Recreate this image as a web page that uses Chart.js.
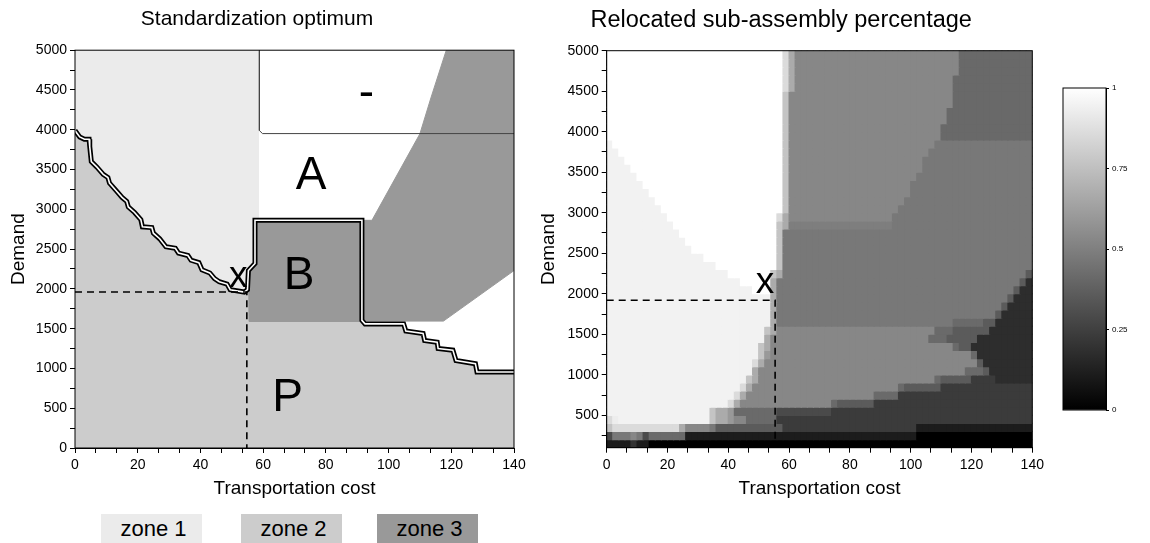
<!DOCTYPE html>
<html>
<head>
<meta charset="utf-8">
<script src="https://cdn.jsdelivr.net/npm/chart.js@4.4.1/dist/chart.umd.min.js"></script>
<style>
  body { margin: 0; background: #fff; width: 1150px; height: 543px; position: relative; overflow: hidden;
         font-family: "Liberation Sans", Arial, sans-serif; }
  canvas { position: absolute; }
  #zoneChart { left: 0; top: 0; }
  #shareChart { left: 530px; top: 0; }
  #scaleChart { left: 1040px; top: 60px; }
  .zone { position: absolute; top: 514px; width: 101px; height: 29px; line-height: 29px;
          font-size: 22px; text-align: center; color: #000; padding-left: 4px; box-sizing: border-box; }
</style>
</head>
<body>
<canvas id="zoneChart" width="530" height="500"></canvas>
<canvas id="shareChart" width="520" height="500"></canvas>
<canvas id="scaleChart" width="110" height="370"></canvas>
<div class="zone" style="left:101px;background:#ebebeb">zone 1</div>
<div class="zone" style="left:241px;background:#cccccc">zone 2</div>
<div class="zone" style="left:377px;background:#999999">zone 3</div>

<script>
const FONT = '"Liberation Sans", Arial, sans-serif';
Chart.defaults.font.family = FONT;
Chart.defaults.color = '#000';

// axes
const costTickLabels = [0, 20, 40, 60, 80, 100, 120, 140];
const costMinorSplit = 3;
const demandTickLabels = [0, 500, 1000, 1500, 2000, 2500, 3000, 3500, 4000, 4500, 5000];
const demandMinorSplit = 2;

// zone map boundaries (transportation cost, demand)
const leftStairX = [0, 1.5, 3, 4.5, 4.7, 5.2, 7, 9, 10.5, 11, 13, 15, 16.5, 17, 19, 21, 21.5, 24.5, 25, 27, 29, 32, 33, 36, 37, 39.5, 40.5, 43, 44.5, 46, 48.5, 49.5, 54];
const leftStairY = [3990, 3910, 3880, 3880, 3790, 3600, 3530, 3440, 3400, 3330, 3240, 3150, 3100, 3030, 2960, 2870, 2780, 2770, 2700, 2630, 2530, 2510, 2450, 2420, 2360, 2330, 2240, 2200, 2130, 2090, 2060, 1990, 1960];
const aroundBX = [55, 55.3, 57.4, 57.4, 91.5, 91.5, 92.5];
const aroundBY = [1990, 2230, 2320, 2862, 2862, 1604, 1560];
const rightStairX = [104.8, 105.5, 111, 111.5, 115.5, 115.8, 120.5, 121.5, 127.7, 128.2, 140];
const rightStairY = [1560, 1470, 1440, 1350, 1330, 1250, 1230, 1100, 1060, 955, 955];

const zone1X = [0, 58.5, 58.5, 57.4, 57.4, 55.3, 55];
const zone1Y = [5000, 5000, 2862, 2862, 2320, 2230, 1990];
const zone2X = [0, 140, 140];
const zone2Y = [0, 0, 955];
const boxBX = [55.5, 91.5, 91.5, 57.4, 57.4, 55.3, 55.5];
const boxBY = [1590, 1590, 2862, 2862, 2320, 2230, 1590];
const zone3X = [91.5, 117.5, 140, 140, 118.4, 113.5, 110, 94.7, 91.5];
const zone3Y = [1595, 1595, 2230, 5000, 5000, 4400, 3950, 2862, 2862];
const dashBoxX = [58.8, 58.8, 59.8, 140];
const dashBoxY = [5000, 3990, 3952, 3952];
const optimumX = [0, 54.8, 54.8];
const optimumY = [1960, 1960, 0];

const leftTexts = [
  {text: '-', x: 92.9, y: 4283, size: 46},
  {text: 'A', x: 75.3, y: 3260, size: 46},
  {text: 'B', x: 71.5, y: 2000, size: 46},
  {text: 'P', x: 67.8, y: 471, size: 46},
  {text: 'x', x: 52.1, y: 2023, size: 37}
];

// heat map: cells 2 wide in cost, 100 tall in demand
const costBins = [1, 3, 5, 7, 9, 11, 13, 15, 17, 19, 21, 23, 25, 27, 29, 31, 33, 35, 37, 39, 41, 43, 45, 47, 49,
  51, 53, 55, 57, 59, 61, 63, 65, 67, 69, 71, 73, 75, 77, 79, 81, 83, 85, 87, 89, 91, 93, 95, 97, 99,
  101, 103, 105, 107, 109, 111, 113, 115, 117, 119, 121, 123, 125, 127, 129, 131, 133, 135, 137, 139];
const demandBins = [4900, 4800, 4700, 4600, 4500, 4400, 4300, 4200, 4100, 4000, 3900, 3800, 3700, 3600, 3500,
  3400, 3300, 3200, 3100, 3000, 2900, 2800, 2700, 2600, 2500, 2400, 2300, 2200, 2100, 2000, 1900, 1800,
  1700, 1600, 1500, 1400, 1300, 1200, 1100, 1000, 900, 800, 700, 600, 500, 400, 300, 200, 100];
const grayCodes = ['W', 'E', 'F', 'G', 'H', 'I', 'J', 'M', 'O', 'N', 'T', 'S', 'P', 'B', 'Q', 'Y', 'K', 'R', 'Z'];
const grayShares = [1.0, 0.93, 0.95, 0.86, 0.77, 0.67, 0.6, 0.53, 0.495, 0.47, 0.41, 0.415, 0.355, 0.29, 0.23, 0.2, 0.175, 0.11, 0.0];
// one run-length string per demand band, top band first
const heatRows = [
  'W29 G1 I1 M27 T12',
  'W29 G1 I1 M27 T12',
  'W29 G1 I1 M27 T12',
  'W29 G1 I1 M26 T13',
  'W29 G1 I1 M26 T13',
  'W29 H1 M27 T13',
  'W29 H1 M27 T13',
  'W29 H1 M26 T14',
  'W29 H1 M26 T14',
  'W29 H1 M25 T15',
  'W29 H1 M25 T15',
  'F1 W28 H1 M24 N16',
  'F2 W27 H1 M23 N17',
  'F3 W26 H1 M22 N18',
  'F4 W25 H1 M22 N18',
  'F5 W24 H1 M21 N19',
  'F6 W23 H1 M20 N20',
  'F7 W22 H1 M20 N20',
  'F8 W21 H1 M19 N21',
  'F9 W20 H1 M18 N22',
  'F10 W18 G1 I1 M17 N23',
  'F11 W17 H1 I1 O17 N23',
  'F12 W16 H1 N41',
  'F13 W15 H1 N41',
  'F14 W14 H1 N41',
  'F16 W12 H1 N41',
  'F18 W10 H1 N41',
  'F20 W7 H1 I1 N40 P1',
  'F22 W5 I1 N40 P1 K1',
  'F24 W3 I1 N39 P1 K2',
  'F27 I1 N38 P1 K3',
  'F27 I1 N37 P1 K4',
  'F27 I1 N36 P1 K5',
  'F27 I1 N29 S5 P2 K6',
  'F26 H1 I1 M26 S3 P6 K7',
  'F26 I1 M26 S3 P5 K9',
  'F25 H1 I1 M30 S1 P2 K10',
  'F25 H1 J1 M33 S1 K9',
  'F24 G1 I1 M35 P1 K8',
  'F24 I1 M34 S3 P1 K7',
  'F23 H1 I1 M29 S1 P5 Q4 K6',
  'F22 G1 I1 M24 S1 P6 Q15',
  'F21 G1 I1 M21 S4 Q22',
  'F20 G1 I1 M15 S1 P6 Q26',
  'F17 H1 I2 J1 S7 B9 Q33',
  'G1 E1 F15 H1 I2 J1 M2 S5 Q42',
  'H1 G11 I1 M4 N1 P11 Q22 R19',
  'B1 N3 M1 N1 B1 S6 R38 Z19',
  'R4 Y1 R2 Z63'
];
const rightTexts = [{text: 'x', x: 52.1, y: 2006, size: 37}];
const rightOptimumX = [0, 55.4, 55.4];
const rightOptimumY = [1920, 1920, 150];

const scaleTickLabels = [0, 0.25, 0.5, 0.75, 1];

function pts(xs, ys) {
  return xs.map((x, i) => ({x: x, y: ys[i]}));
}
function polygon(xs, ys, color, order) {
  return {data: pts(xs, ys), showLine: true, fill: 'shape', backgroundColor: color,
          borderColor: color, borderWidth: 1, pointRadius: 0, order: order};
}
function path(xs, ys, color, width, order, dash) {
  return {data: pts(xs, ys), showLine: true, fill: false, borderColor: color, borderWidth: width,
          borderDash: dash || [], pointRadius: 0, order: order, borderJoinStyle: 'miter'};
}
function decodeRow(s) {
  const out = [];
  s.split(' ').forEach(run => {
    const n = parseInt(run.slice(1), 10);
    for (let i = 0; i < n; i++) out.push(run[0]);
  });
  return out;
}
function grayOf(code) {
  const v = Math.round(255 * grayShares[grayCodes.indexOf(code)]);
  return 'rgb(' + v + ',' + v + ',' + v + ')';
}
function withMinor(labels, split) {
  const out = [];
  labels.forEach((v, i) => {
    out.push(v);
    if (i < labels.length - 1) {
      const step = (labels[i + 1] - v) / split;
      for (let k = 1; k < split; k++) out.push(v + k * step);
    }
  });
  return out;
}
function isLabel(v, labels) {
  return labels.some(l => Math.abs(l - v) < 1e-6);
}

const frame = {
  id: 'frame',
  afterDraw(chart) {
    const {ctx, chartArea: a} = chart;
    ctx.save();
    ctx.strokeStyle = '#000';
    ctx.lineWidth = 1;
    ctx.strokeRect(a.left, a.top, a.right - a.left, a.bottom - a.top);
    ctx.restore();
  }
};
const textMarks = {
  id: 'textMarks',
  afterDatasetsDraw(chart, args, opts) {
    const {ctx, scales: {x, y}} = chart;
    (opts.items || []).forEach(it => {
      ctx.save();
      ctx.font = it.size + 'px ' + FONT;
      ctx.fillStyle = '#000';
      ctx.textAlign = 'center';
      ctx.textBaseline = 'alphabetic';
      ctx.fillText(it.text, x.getPixelForValue(it.x), y.getPixelForValue(it.y));
      ctx.restore();
    });
  }
};

function costAxis(height) {
  const ticks = withMinor(costTickLabels, costMinorSplit);
  return {
    type: 'linear', min: 0, max: 140, offset: false,
    afterBuildTicks: s => { s.ticks = ticks.map(v => ({value: v})); },
    afterFit: s => { s.height = height; },
    ticks: {autoSkip: false, maxRotation: 0, padding: 4, font: {size: 14}, color: '#000',
            callback: v => isLabel(v, costTickLabels) ? String(Math.round(v)) : ''},
    grid: {drawOnChartArea: false, drawTicks: true, tickLength: 5, color: '#000', offset: false},
    border: {display: true, color: '#000'},
    title: {display: true, text: 'Transportation cost', font: {size: 19}, color: '#000', padding: {top: 0, bottom: 0}}
  };
}
function demandAxis(min, width, tickValues) {
  return {
    type: 'linear', min: min, max: 5000,
    afterBuildTicks: s => { s.ticks = tickValues.map(v => ({value: v})); },
    afterFit: s => { s.width = width; },
    ticks: {autoSkip: false, padding: 3, font: {size: 14}, color: '#000',
            callback: v => isLabel(v, demandTickLabels) ? String(v) : ''},
    grid: {drawOnChartArea: false, drawTicks: true, tickLength: 5, color: '#000'},
    border: {display: true, color: '#000'},
    title: {display: true, text: 'Demand', font: {size: 19}, color: '#000', padding: {top: 7, bottom: 0}}
  };
}

// left: standardization optimum
const zone2Outline = zone2X.concat(rightStairX.slice().reverse(), [92.5, 91.5, 55.5, 55], leftStairX.slice().reverse());
const zone2OutlineY = zone2Y.concat(rightStairY.slice().reverse(), [1560, 1590, 1590, 1990], leftStairY.slice().reverse());
const zone1Outline = zone1X.concat(leftStairX.slice().reverse());
const zone1OutlineY = zone1Y.concat(leftStairY.slice().reverse());
const borderX = leftStairX.concat(aroundBX, rightStairX);
const borderY = leftStairY.concat(aroundBY, rightStairY);

new Chart(document.getElementById('zoneChart'), {
  type: 'scatter',
  data: {
    datasets: [
      polygon(zone1Outline, zone1OutlineY, '#ebebeb', 20),
      polygon(zone2Outline, zone2OutlineY, '#cccccc', 19),
      polygon(boxBX, boxBY, '#999999', 18),
      polygon(zone3X, zone3Y, '#999999', 17),
      path(dashBoxX, dashBoxY, '#444444', 1, 16),
      path(borderX, borderY, '#000000', 5, 15),
      path(borderX, borderY, '#ffffff', 1.6, 14),
      path(optimumX, optimumY, '#000000', 1.6, 13, [7, 5])
    ]
  },
  options: {
    responsive: false, animation: false, events: [],
    layout: {padding: {left: 0, right: 16, top: 0, bottom: 0}},
    plugins: {
      legend: {display: false}, tooltip: {enabled: false},
      title: {display: true, text: 'Standardization optimum', color: '#000',
              font: {size: 21, weight: 'normal'}, padding: {top: 7, bottom: 18}},
      textMarks: {items: leftTexts}
    },
    scales: {
      x: costAxis(52),
      y: demandAxis(0, 75, withMinor(demandTickLabels, demandMinorSplit))
    }
  },
  plugins: [frame, textMarks]
});

// right: relocated sub-assembly percentage
const heatSets = heatRows.map((row, k) => {
  const lo = demandBins[k];
  const codes = decodeRow(row);
  return {
    type: 'bar', order: 5,
    data: costBins.map(c => ({x: c, y: [lo, lo + 100]})),
    backgroundColor: codes.map(grayOf),
    borderWidth: 0, grouped: false, barPercentage: 1, categoryPercentage: 1, inflateAmount: 0.6
  };
});
const rightDemandTicks = withMinor(demandTickLabels, demandMinorSplit).filter(v => v >= 100);

new Chart(document.getElementById('shareChart'), {
  type: 'bar',
  data: {
    datasets: heatSets.concat([
      Object.assign(path(rightOptimumX, rightOptimumY, '#000000', 1.6, 1, [7, 5]), {type: 'line'})
    ])
  },
  options: {
    responsive: false, animation: false, events: [],
    layout: {padding: {left: 0, right: 17.7, top: 0, bottom: 0}},
    plugins: {
      legend: {display: false}, tooltip: {enabled: false},
      title: {display: true, text: 'Relocated sub-assembly percentage', color: '#000',
              font: {size: 23.5, weight: 'normal'}, padding: {top: 6, bottom: 16.5}},
      textMarks: {items: rightTexts}
    },
    scales: {
      x: costAxis(52.3),
      y: demandAxis(100, 76.7, rightDemandTicks)
    }
  },
  plugins: [frame, textMarks]
});

// colour scale
new Chart(document.getElementById('scaleChart'), {
  type: 'bar',
  data: {
    labels: ['share'],
    datasets: [{
      data: [[0, 1]], borderWidth: 0, barPercentage: 1, categoryPercentage: 1,
      backgroundColor: ctx => {
        const a = ctx.chart.chartArea;
        if (!a || !isFinite(a.top) || !isFinite(a.bottom)) return '#808080';
        const g = ctx.chart.ctx.createLinearGradient(0, a.bottom, 0, a.top);
        g.addColorStop(0, '#000');
        g.addColorStop(1, '#fff');
        return g;
      }
    }]
  },
  options: {
    responsive: false, animation: false, events: [],
    layout: {padding: {left: 23, right: 0, top: 28, bottom: 20}},
    plugins: {legend: {display: false}, tooltip: {enabled: false}},
    scales: {
      x: {display: false, offset: true},
      y: {
        position: 'right', min: 0, max: 1,
        afterBuildTicks: s => { s.ticks = scaleTickLabels.map(v => ({value: v})); },
        afterFit: s => { s.width = 44; },
        ticks: {font: {size: 8}, color: '#000', padding: 3, callback: v => String(v)},
        grid: {drawOnChartArea: false, drawTicks: true, tickLength: 3, color: '#000'},
        border: {display: true, color: '#000'}
      }
    }
  },
  plugins: [frame]
});
</script>
</body>
</html>
